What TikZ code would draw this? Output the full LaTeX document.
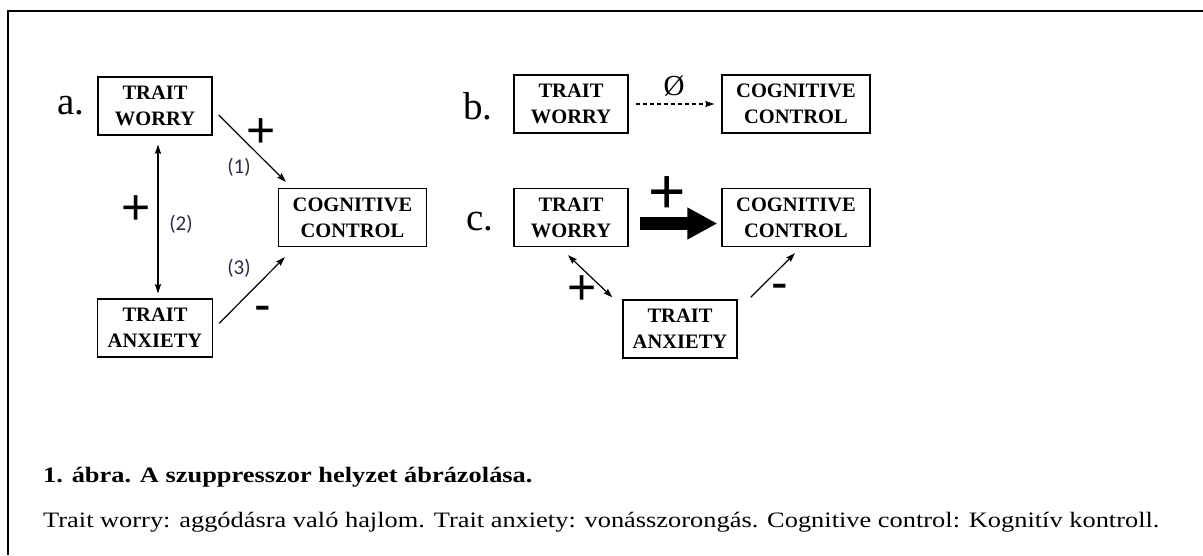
\documentclass[tikz,border=0pt]{standalone}
\usepackage{fontspec}
\setmainfont{Liberation Serif}
\newfontfamily\signfont{Liberation Sans}
\newfontfamily\numfont{Carlito}
\newfontfamily\capfont{Liberation Serif}[FakeStretch=1.2]
\usetikzlibrary{arrows.meta,calc}
\definecolor{numgray}{RGB}{45,45,65}

\begin{document}
\begin{tikzpicture}[x=1pt, y=-1pt, >={Stealth[length=9pt,width=6pt,inset=1pt]}]

\tikzstyle{box} = [draw, line width=1.4pt, inner sep=0pt, minimum width=114pt, minimum height=58pt, align=center, font=\bfseries\fontsize{20.5}{26}\selectfont]
\tikzstyle{widebox} = [box, minimum width=148pt]
\tikzstyle{signlabel} = [inner sep=0pt, font=\signfont\fontsize{50}{50}\selectfont]
\tikzstyle{numlabel} = [inner sep=0pt, text=numgray, font=\numfont\fontsize{21}{21}\selectfont]
\tikzstyle{panellabel} = [inner sep=0pt, anchor=base west, font=\fontsize{39}{39}\selectfont]
\tikzstyle{link} = [line width=1.2pt]

\useasboundingbox (0,0) rectangle (1203,555);
\draw[line width=2pt] (1203,11) -- (8,11) -- (8,555);

% a.
\node[panellabel] (la) at (57,114) {a.};
\node[box] (aw) at (155,106) {TRAIT\\WORRY};
\node[widebox] (ac) at (352.5,217.5) {COGNITIVE\\CONTROL};
\node[box, minimum width=115pt] (aa) at (155,328) {TRAIT\\ANXIETY};

\draw[->, link] ($(aw.east)+(6,9)$) -- ($(ac.north west)+(8,-6)$);
\draw[<->, link] ($(aw.south)+(3,9)$) -- ($(aa.north)+(3,-5)$);
\draw[->, link] ($(aa.north east)+(6,25)$) -- ($(ac.south west)+(7,10)$);

\node[signlabel] (ap1) at (261,133) {+};
\node[signlabel] (ap2) at (136,210) {+};
\node[signlabel] (am3) at (263,314) {-};
\node[numlabel] (an1) at (239,167) {(1)};
\node[numlabel] (an2) at (181,224) {(2)};
\node[numlabel] (an3) at (239,268) {(3)};

% b.
\node[panellabel] (lb) at (463,119) {b.};
\node[box] (bw) at (571,104) {TRAIT\\WORRY};
\node[widebox] (bc) at (796,104) {COGNITIVE\\CONTROL};

\draw[->, link, dash pattern=on 4pt off 3pt, shorten <=7pt, shorten >=7pt] (bw) -- (bc);
\node[inner sep=0pt, font=\fontsize{29}{29}\selectfont] (bnull) at (674,86) {Ø};

% c.
\node[panellabel] (lc) at (466,230) {c.};
\node[box] (cw) at (571,217.5) {TRAIT\\WORRY};
\node[widebox] (cc) at (796,217.5) {COGNITIVE\\CONTROL};
\node[box] (ca) at (680,329) {TRAIT\\ANXIETY};

\draw[line width=13pt, -{Triangle[length=30pt,width=30pt]}] ($(cw.east)+(11,6)$) -- ($(cc.west)+(-4,6)$);
\draw[<->, link] ($(cw.south)+(-3,8)$) -- ($(ca.north west)+(-10,-2)$);
\draw[->, link] ($(ca.north east)+(13,-2)$) -- ($(cc.south)+(-1,6)$);

\node[signlabel, font=\signfont\fontsize{64}{64}\selectfont] (cp1) at (667,195) {+};
\node[signlabel] (cp2) at (582,290) {+};
\node[signlabel] (cm3) at (780,292) {-};

% caption
\node[anchor=base west, inner sep=0pt, font=\capfont\bfseries\fontsize{22}{22}\selectfont] (cap) at (43,482) {1. ábra. A szuppresszor helyzet ábrázolása.};
\node[anchor=base west, inner sep=0pt, font=\capfont\fontsize{22}{22}\selectfont] (note) at (43,527) {Trait worry: aggódásra való hajlom. Trait anxiety: vonásszorongás. Cognitive control: Kognitív kontroll.};
\end{tikzpicture}
\end{document}
